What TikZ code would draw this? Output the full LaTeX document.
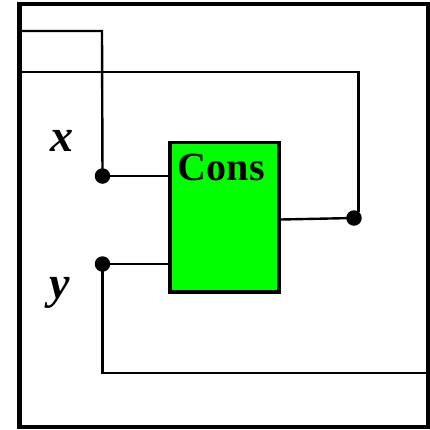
\documentclass[tikz,border=0pt]{standalone}
\usepackage{fontspec}
\setmainfont{Liberation Serif}
\begin{document}
\begin{tikzpicture}[x=1bp,y=-1bp,
  wire/.style={line width=2.4bp},
  joint/.style={circle,fill=black,inner sep=0pt,minimum size=15.5bp},
  consbox/.style={draw,line width=3.5bp,fill={rgb,255:red,0;green,255;blue,0},minimum width=109bp,minimum height=149.5bp,inner sep=0pt},
  varlabel/.style={font=\fontsize{46bp}{52bp}\selectfont\bfseries\itshape,inner sep=0pt}]
\useasboundingbox (0,0) rectangle (430,430);
% outer frame
\draw[line width=4bp] (19.5,3.5) rectangle (427.5,426.5);
% box
\node[consbox] (cons) at (224.5,217.25) {};
\node[anchor=base,font=\fontsize{40bp}{48bp}\selectfont\bfseries,inner sep=0pt] (constext) at (221.3,180.7) {Cons};
% joints
\node[joint] (jx) at (102.5,176) {};
\node[joint] (jy) at (102.5,264) {};
\node[joint] (jo) at (354,218) {};
% labels
\node[varlabel] (lx) at (62,141) {x};
\node[varlabel] (ly) at (60,293) {y};
% frame coordinates
\coordinate (t1) at (19.5,31);
\coordinate (t2) at (19.5,71.7);
\coordinate (b1) at (427.5,372.7);
% wires
\draw[wire] (t1) -- (102,31) -- (jx.center);
\draw[wire] (t2) -- (358.5,71.7) -- (358.5,212);
\draw[wire] (jx.center) -- (jx.center -| cons.west);
\draw[wire] (jy.center) -- (jy.center -| cons.west);
\draw[wire] (cons.east |- 0,219.5) -- (jo.center);
\draw[wire] (jy.center) -- (jy.center |- b1) -- (b1);
\end{tikzpicture}
\end{document}
